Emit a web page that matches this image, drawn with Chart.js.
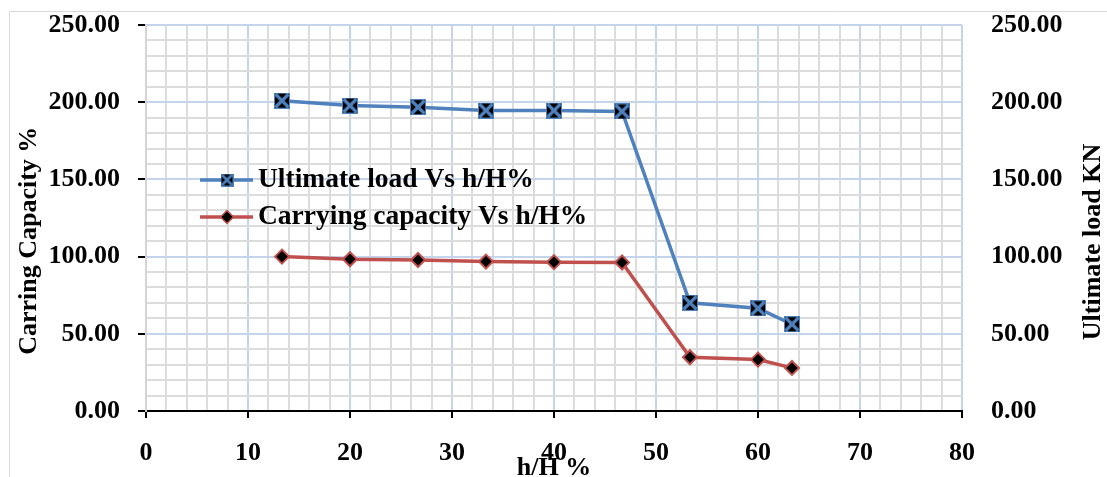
<html>
<head>
  <script src="https://cdn.jsdelivr.net/npm/chart.js@4.4.0/dist/chart.umd.min.js"></script>
  <style>body{margin:0;background:#fff}</style>
</head>
<body>
<canvas id="hc" width="1107" height="477" style="width:1107px;height:477px"></canvas>
<script>
  // values
  var hH = [13.33, 20, 26.67, 33.33, 40, 46.67, 53.33, 60, 63.33];
  var ultLoad = [201, 197.8, 196.8, 194.6, 194.6, 194, 70.1, 66.5, 56.2];
  var carCap = [100, 98.3, 97.8, 96.8, 96.4, 96.2, 34.8, 33.3, 27.9];
  var seriesNames = ['Ultimate load Vs h/H%', 'Carrying capacity Vs h/H%'];
  var rightTitle = 'Ultimate load KN';

  var fnt = 'Liberation Serif, Times New Roman, serif';
  var blue = '#4f81bd', red = '#c0504d';
  var majC = '#c4d5eb', minC = '#dcdcdc';

  // black square with a blue cross
  function xbox(s){
    var c = document.createElement('canvas');
    c.width = s; c.height = s;
    var g = c.getContext('2d');
    g.fillStyle = '#000';
    g.fillRect(1, 1, s-2, s-2);
    g.strokeStyle = blue; g.lineWidth = s/5;
    g.beginPath();
    g.moveTo(1.5, 1.5); g.lineTo(s-1.5, s-1.5);
    g.moveTo(s-1.5, 1.5); g.lineTo(1.5, s-1.5);
    g.stroke();
    g.lineWidth = 1; g.strokeRect(0.5, 0.5, s-1, s-1);
    return c;
  }
  var bigX = xbox(16), smallX = xbox(13);

  function pts(ys){ return hH.map(function(x, i){ return {x: x, y: ys[i]}; }); }

  var frame = {
    id: 'frame',
    beforeDraw: function(ch){
      var c = ch.ctx;
      c.save();
      c.strokeStyle = '#d9d9d9'; c.lineWidth = 1;
      c.beginPath();
      c.moveTo(9.5, 477); c.lineTo(9.5, 11.5); c.lineTo(1107, 11.5);
      c.stroke();
      c.restore();
    },
    afterDraw: function(ch){
      // right axis title reads bottom to top, as on the left
      var c = ch.ctx;
      c.save();
      c.translate(1093, 242);
      c.rotate(-Math.PI/2);
      c.fillStyle = '#000';
      c.font = 'bold 26px ' + fnt;
      c.textAlign = 'center'; c.textBaseline = 'middle';
      c.fillText(rightTitle, 0, 0);
      c.restore();
    }
  };

  var lgnd = {
    id: 'lgnd',
    afterDatasetsDraw: function(ch){
      var c = ch.ctx;
      var rows = [180, 217];
      c.save();
      ch.data.datasets.forEach(function(ds, i){
        var y = rows[i];
        c.strokeStyle = ds.borderColor; c.lineWidth = 3.5;
        c.beginPath(); c.moveTo(200, y); c.lineTo(253, y); c.stroke();
        if (i == 0) {
          c.drawImage(smallX, 227 - 6.5, y - 6.5);
        } else {
          c.fillStyle = '#000'; c.strokeStyle = red; c.lineWidth = 1.5;
          c.beginPath();
          c.moveTo(227, y - 6.5); c.lineTo(233.5, y); c.lineTo(227, y + 6.5); c.lineTo(220.5, y);
          c.closePath(); c.fill(); c.stroke();
        }
        c.fillStyle = '#000';
        c.font = 'bold 27.5px ' + fnt;
        c.textBaseline = 'middle';
        c.fillText(ds.label, 258, y);
      });
      c.restore();
    }
  };

  function isMaj(ctx, step){ return ctx.tick && Math.round(ctx.tick.value) % step == 0; }
  function fitY(w){ return function(s){ s.width = w; s.paddingTop = 0; s.paddingBottom = 0; }; }

  new Chart(document.getElementById('hc'), {
    type: 'line',
    data: {
      datasets: [{
        label: seriesNames[0],
        data: pts(ultLoad),
        yAxisID: 'y1',
        borderColor: blue,
        backgroundColor: blue,
        borderWidth: 3.5,
        pointStyle: bigX,
        pointRadius: 8
      }, {
        label: seriesNames[1],
        data: pts(carCap),
        yAxisID: 'y',
        borderColor: red,
        backgroundColor: '#000',
        borderWidth: 3.5,
        pointStyle: 'rectRot',
        pointRadius: 7,
        pointBorderWidth: 2,
        pointBorderColor: red
      }]
    },
    options: {
      responsive: false,
      animation: false,
      layout: {padding: {top: 25}},
      plugins: {legend: {display: false}, tooltip: {enabled: false}},
      scales: {
        x: {
          type: 'linear', min: 0, max: 80,
          afterFit: function(s){ s.height = 66; },
          ticks: {
            stepSize: 2, autoSkip: false, maxRotation: 0, padding: 20,
            color: '#000', font: {family: fnt, size: 26, weight: 'bold'},
            callback: function(v){ return v % 10 == 0 ? v : ''; }
          },
          grid: {
            lineWidth: 2, tickLength: 7, tickWidth: 2,
            color: function(ctx){ return isMaj(ctx, 10) ? majC : minC; },
            tickColor: function(ctx){ return isMaj(ctx, 10) ? '#000' : 'rgba(0,0,0,0)'; }
          },
          border: {color: '#000', width: 2},
          title: {display: true, text: 'h/H %', color: '#000', padding: 0,
                  font: {family: fnt, size: 26, weight: 'bold', lineHeight: 0.7}}
        },
        y: {
          position: 'left', min: 0, max: 250,
          afterFit: fitY(146),
          ticks: {
            stepSize: 10, autoSkip: false, padding: 18,
            color: '#000', font: {family: fnt, size: 26, weight: 'bold'},
            callback: function(v){ return v % 50 == 0 ? v.toFixed(2) : ''; }
          },
          grid: {
            lineWidth: 2, tickLength: 8, tickWidth: 2,
            color: function(ctx){ return isMaj(ctx, 50) ? majC : minC; },
            tickColor: function(ctx){ return isMaj(ctx, 50) ? '#000' : 'rgba(0,0,0,0)'; }
          },
          border: {color: '#d4d4d4', width: 2},
          title: {display: true, text: 'Carring Capacity %       ', color: '#000', padding: 14,
                  font: {family: fnt, size: 26, weight: 'bold'}}
        },
        y1: {
          position: 'right', min: 0, max: 250,
          afterFit: fitY(145),
          ticks: {
            stepSize: 10, autoSkip: false, padding: 21,
            color: '#000', font: {family: fnt, size: 26, weight: 'bold'},
            callback: function(v){ return v % 50 == 0 ? v.toFixed(2) : ''; }
          },
          grid: {display: false},
          border: {display: false},
          title: {display: false}
        }
      }
    },
    plugins: [frame, lgnd]
  });
</script>
</body>
</html>
